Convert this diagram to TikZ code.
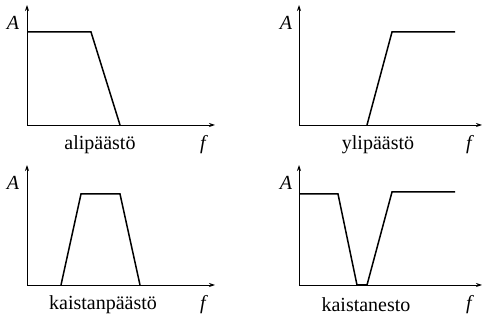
\documentclass[tikz,border=0pt]{standalone}
\usepackage{fontspec}
\setmainfont{Liberation Serif}
\usetikzlibrary{arrows.meta}
\begin{document}
\begin{tikzpicture}[x=0.5pt,y=-0.5pt,
  axis/.style={line width=0.4pt,-{Stealth[length=3pt,width=2pt]}},
  curve/.style={line width=0.75pt,line join=miter},
  lbl/.style={font=\fontsize{10}{12}\selectfont,inner sep=0pt},
  var/.style={font=\fontsize{10}{12}\selectfont\itshape,inner sep=0pt}]
\useasboundingbox (0,0) rectangle (482,320);
% panel 1
\coordinate (o1) at (27,125);
\coordinate (y1) at (27,5);
\coordinate (x1) at (215,125);
\draw[axis] (o1) -- (y1);
\draw[axis] (o1) -- (x1);
\coordinate (p1a) at (27,32);
\coordinate (p1b) at (91,32);
\coordinate (p1c) at (120,125);
\draw[curve] (p1a) -- (p1b) -- (p1c);
\node[var] (A1) at (13,23) {A};
\node[lbl] (t1) at (100,145) {alipäästö};
\node[var] (f1) at (203,145) {f};
% panel 2
\coordinate (o2) at (299,125);
\coordinate (y2) at (299,5);
\coordinate (x2) at (482,125);
\draw[axis] (o2) -- (y2);
\draw[axis] (o2) -- (x2);
\coordinate (p2a) at (367,125);
\coordinate (p2b) at (392,32);
\coordinate (p2c) at (455,32);
\draw[curve] (p2a) -- (p2b) -- (p2c);
\node[var] (A2) at (286,23) {A};
\node[lbl] (t2) at (378,145) {ylipäästö};
\node[var] (f2) at (469,145) {f};
% panel 3
\coordinate (o3) at (27,285);
\coordinate (y3) at (27,165);
\coordinate (x3) at (215,285);
\draw[axis] (o3) -- (y3);
\draw[axis] (o3) -- (x3);
\coordinate (p3a) at (61,285);
\coordinate (p3b) at (81,194);
\coordinate (p3c) at (120,194);
\coordinate (p3d) at (140,285);
\draw[curve] (p3a) -- (p3b) -- (p3c) -- (p3d);
\node[var] (A3) at (13,183) {A};
\node[lbl] (t3) at (103,305) {kaistanpäästö};
\node[var] (f3) at (203,305) {f};
% panel 4
\coordinate (o4) at (299,285);
\coordinate (y4) at (299,165);
\coordinate (x4) at (482,285);
\draw[axis] (o4) -- (y4);
\draw[axis] (o4) -- (x4);
\coordinate (p4a) at (299,194);
\coordinate (p4b) at (338,194);
\coordinate (p4c) at (357,285);
\coordinate (p4d) at (367,285);
\coordinate (p4e) at (392,192);
\coordinate (p4f) at (455,192);
\draw[curve] (p4a) -- (p4b) -- (p4c) -- (p4d) -- (p4e) -- (p4f);
\node[var] (A4) at (286,183) {A};
\node[lbl] (t4) at (366,305) {kaistanesto};
\node[var] (f4) at (469,305) {f};
\end{tikzpicture}
\end{document}
